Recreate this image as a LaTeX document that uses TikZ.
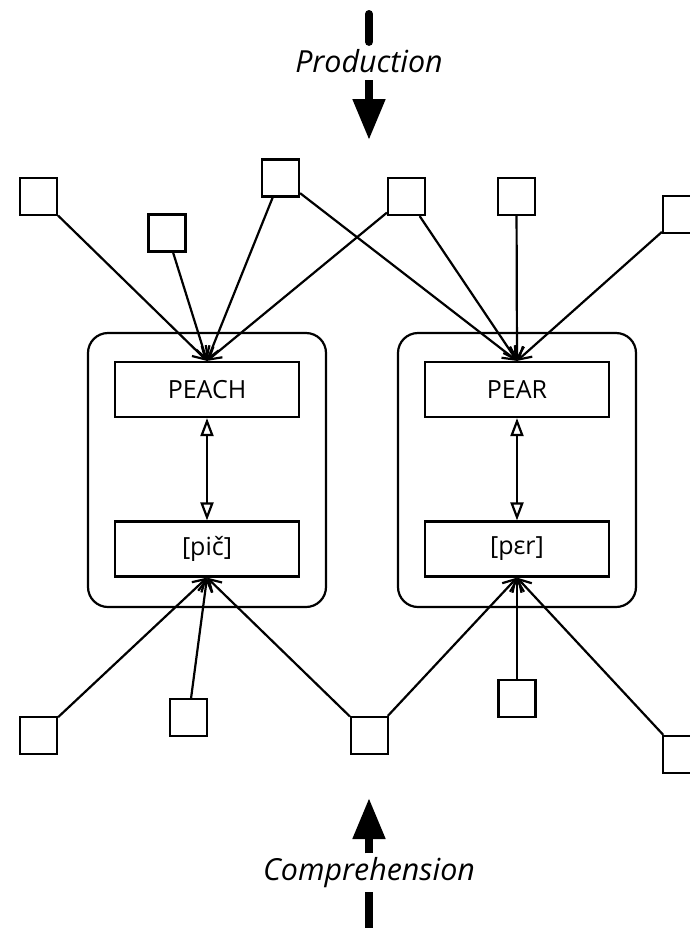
\documentclass[tikz,border=0pt]{standalone}
\usepackage{fontspec}
\setmainfont{Open Sans}
\usetikzlibrary{arrows.meta}

\begin{document}
\begin{tikzpicture}[x=0.5pt, y=-0.5pt, line width=1.1pt,
	unit/.style={draw, minimum size=18.5pt, inner sep=0pt},
	word/.style={draw, minimum width=92pt, minimum height=27.5pt, inner sep=0pt, font=\fontsize{12.5}{14}\selectfont},
	module/.style={draw, rounded corners=10pt, minimum width=119pt, minimum height=137pt},
	link/.style={-{Straight Barb[length=6pt,width=7pt]}},
	both/.style={{Triangle[open,width=6.5pt,length=9pt]}-{Triangle[open,width=6.5pt,length=9pt]}},
	shaft/.style={line width=4pt},
	flow/.style={line width=4pt, -{Triangle[width=15.5pt,length=20.5pt]}},
	mode/.style={minimum height=18pt, inner sep=0pt, font=\fontsize{15.2}{17}\selectfont\itshape}]
	\useasboundingbox (0,0) rectangle (690,928);

	\node[module] (peachmod) at (207,470) {};
	\node[module] (pearmod) at (517,470) {};
	\node[word] (peach) at (207,389.5) {PEACH};
	\node[word] (pich) at (207,549) {[pič]};
	\node[word] (pear) at (517,389.5) {PEAR};
	\node[word] (per) at (517,549) {[pεr]};
	\draw[both] (peach) -- (pich);
	\draw[both] (pear) -- (per);

	\node[unit] (t1) at (38.5,196.5) {};
	\node[unit] (t2) at (167,233) {};
	\node[unit] (t3) at (280.5,178) {};
	\node[unit] (t4) at (406.5,196.5) {};
	\node[unit] (t5) at (516.5,196.5) {};
	\node[unit] (t6) at (681.5,214.5) {};
	\foreach \u in {t1,t2,t3,t4}
		\draw[link] (\u) -- (peach.north);
	\foreach \u in {t3,t4,t5,t6}
		\draw[link] (\u) -- (pear.north);

	\node[unit] (b1) at (38.5,735.5) {};
	\node[unit] (b2) at (188.5,717.5) {};
	\node[unit] (b3) at (369.5,735.5) {};
	\node[unit] (b4) at (517,698.5) {};
	\node[unit] (b5) at (681.5,754.5) {};
	\foreach \u in {b1,b2,b3}
		\draw[link] (\u) -- (pich.south);
	\foreach \u in {b3,b4,b5}
		\draw[link] (\u) -- (per.south);

	\coordinate (prodtop) at (369,14);
	\coordinate (prodtip) at (369,140);
	\node[mode] (prod) at (369,61) {Production};
	\draw[shaft, line cap=round] (prodtop) -- (prod);
	\draw[flow] (prod) -- (prodtip);

	\coordinate (compbot) at (369,935);
	\coordinate (comptip) at (369,798);
	\node[mode] (comp) at (369,872.5) {Comprehension};
	\draw[shaft] (compbot) -- (comp);
	\draw[flow] (comp) -- (comptip);
\end{tikzpicture}
\end{document}
